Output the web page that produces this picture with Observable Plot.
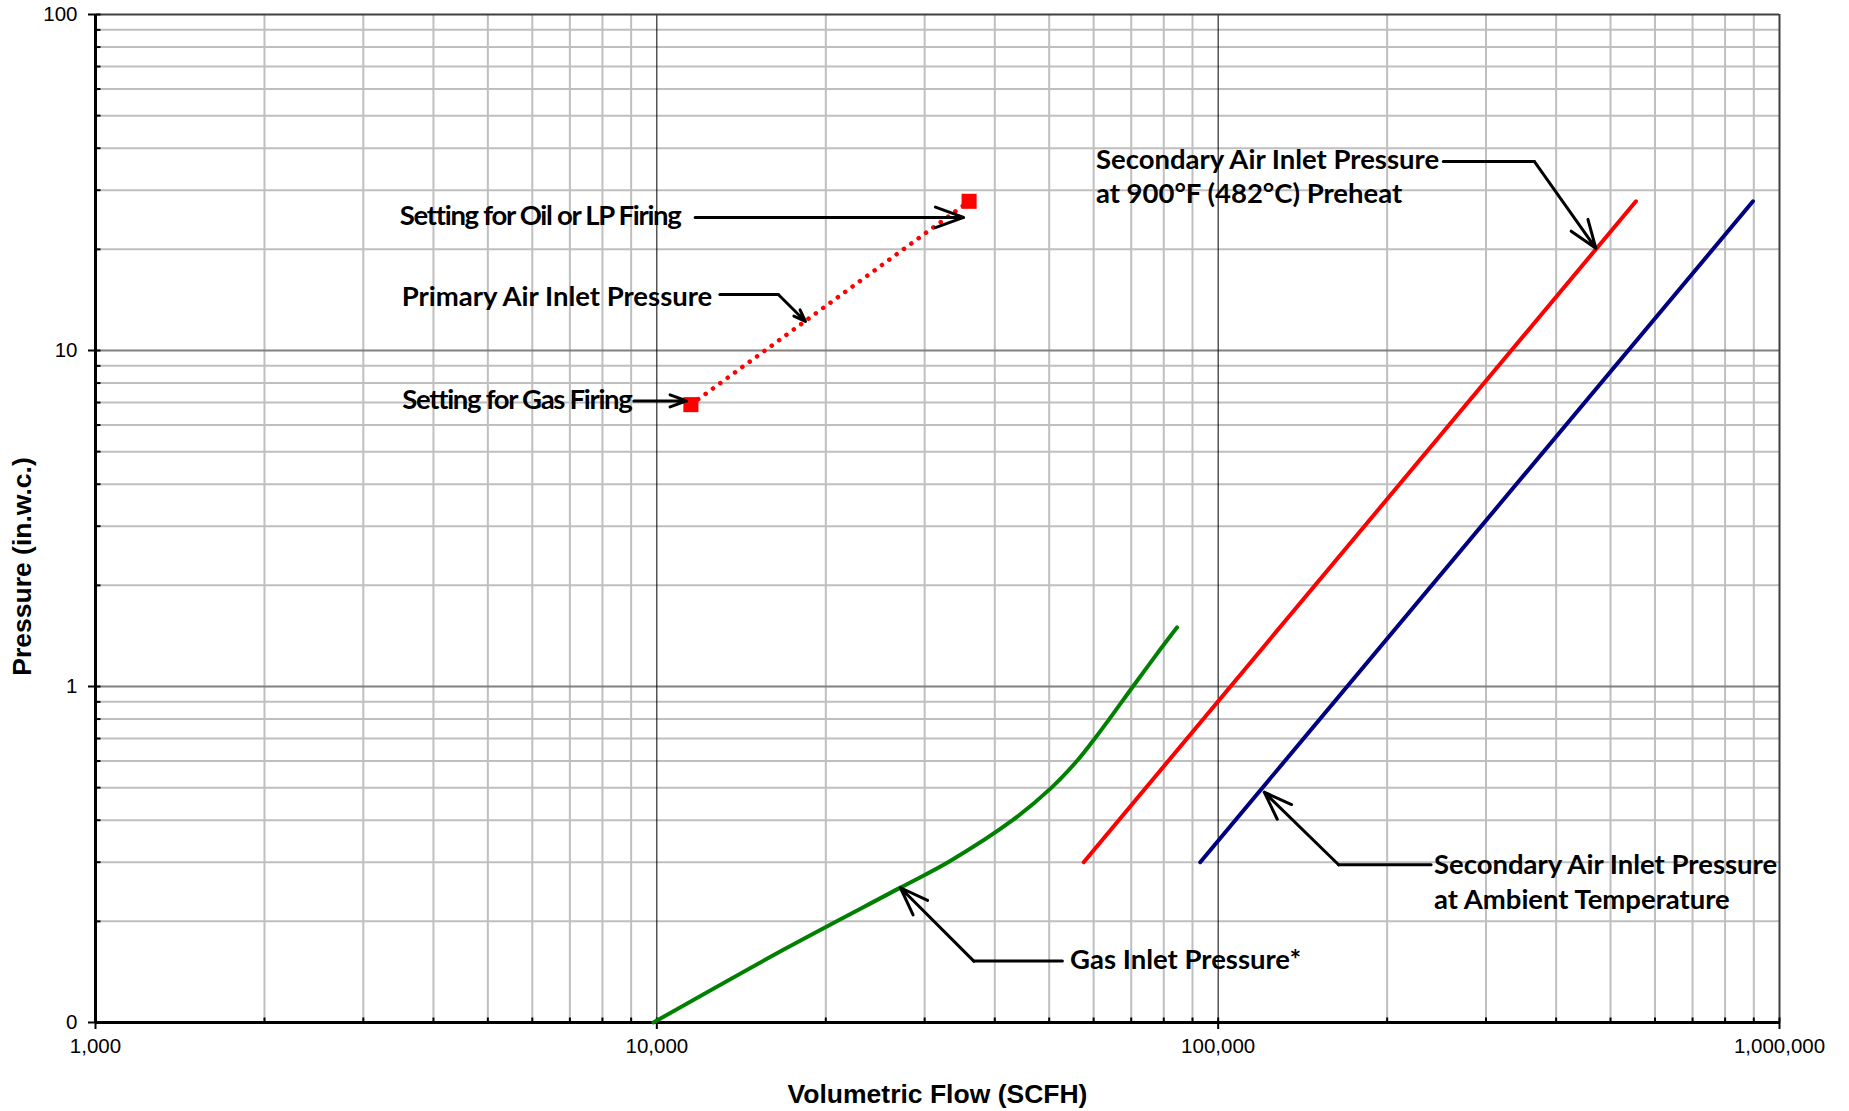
<!DOCTYPE html>
<html>
<head>
<meta charset="utf-8">
<script src="https://cdn.jsdelivr.net/npm/d3@7"></script>
<script src="https://cdn.jsdelivr.net/npm/@observablehq/plot@0.6"></script>
<style>
  html, body { margin: 0; padding: 0; background: #fff; }
  #chart svg { display: block; }
</style>
</head>
<body>
<div id="chart"></div>
<script>
// ---- Data ----
const xTitle = "Volumetric Flow (SCFH)";
const yTitle = "Pressure (in.w.c.)";
const xTicks = [1000, 10000, 100000, 1000000];
const yTicks = [0.1, 1, 10, 100];

// Gas Inlet Pressure* (green)
const gasFlow = [9860, 16960, 27160, 33250, 43030, 50480, 56020, 60290, 63980, 67340, 70500, 77500, 84500];
const gasPressure = [0.1, 0.166, 0.252, 0.302, 0.4, 0.5, 0.6, 0.7, 0.8, 0.9, 1.0, 1.24, 1.5];

// Secondary Air Inlet Pressure at 900°F (482°C) Preheat (red)
const preheatFlow = [57600, 555000];
const preheatPressure = [0.3, 27.8];

// Secondary Air Inlet Pressure at Ambient Temperature (navy)
const ambientFlow = [92900, 897000];
const ambientPressure = [0.3, 27.8];

// Primary Air Inlet Pressure (red dotted, settings as squares)
const primaryFlow = [11500, 36000];
const primaryPressure = [6.9, 27.8];

// Annotation labels
const labelText = [
  "Setting for Oil or LP Firing",
  "Primary Air Inlet Pressure",
  "Setting for Gas Firing",
  "Secondary Air Inlet Pressure",
  "at 900°F (482°C) Preheat",
  "Secondary Air Inlet Pressure",
  "at Ambient Temperature",
  "Gas Inlet Pressure*"
];
const labelFlow = [3485, 3511, 3520, 60560, 60560, 242300, 242300, 54470];
const labelPressure = [25.05, 14.41, 7.10, 36.78, 29.27, 0.2934, 0.2307, 0.1529];

// Leader lines (flow, pressure) - last point is the arrow tip
const leaderFlow = [
  [11700, 35200],
  [12950, 16460, 18400],
  [9100, 11300],
  [251800, 366000, 470800],
  [239500, 163900, 120800],
  [52780, 36700, 27160]
];
const leaderPressure = [
  [24.9, 24.9],
  [14.68, 14.68, 12.2],
  [7.08, 7.08],
  [36.5, 36.5, 20.15],
  [0.2947, 0.2947, 0.4846],
  [0.1523, 0.1523, 0.2518]
];

// ---- Build tables ----
const zip = (xs, ys) => xs.map((x, i) => ({x, y: ys[i]}));
const gas = zip(gasFlow, gasPressure);
const preheat = zip(preheatFlow, preheatPressure);
const ambient = zip(ambientFlow, ambientPressure);
const primary = zip(primaryFlow, primaryPressure);
const labels = labelText.map((t, i) => ({t, x: labelFlow[i], y: labelPressure[i]}));

const polyPts = [];
const arrows = [];
leaderFlow.forEach((fx, k) => {
  const fy = leaderPressure[k];
  const n = fx.length;
  if (n > 2) {
    for (let i = 0; i < n - 1; i++) polyPts.push({k, x: fx[i], y: fy[i]});
  }
  arrows.push({x1: fx[n - 2], y1: fy[n - 2], x2: fx[n - 1], y2: fy[n - 1]});
});

const minorX = [];
for (const e of [1000, 10000, 100000]) for (let m = 2; m <= 9; m++) minorX.push(m * e);
const minorY = [];
for (const e of [0.1, 1, 10]) for (let m = 2; m <= 9; m++) minorY.push(+(m * e).toPrecision(3));
const majorXinner = [10000, 100000];
const majorYinner = [1, 10];

const tickRight = {draw(ctx) { ctx.moveTo(0, 0); ctx.lineTo(5, 0); }};
const tickUp = {draw(ctx) { ctx.moveTo(0, 0); ctx.lineTo(0, -5); }};

const chart = Plot.plot({
  width: 1849,
  height: 1111,
  marginLeft: 95,
  marginRight: 70,
  marginTop: 14,
  marginBottom: 89,
  style: {fontFamily: "'Liberation Sans', Arial, sans-serif", fontSize: "20.5px", background: "#fff", color: "#000"},
  x: {type: "log", domain: [1000, 1000000]},
  y: {type: "log", domain: [0.1, 100]},
  marks: [
    // grid
    Plot.ruleX(minorX, {stroke: "#bfbfbf", strokeWidth: 2}),
    Plot.ruleY(minorY, {stroke: "#bfbfbf", strokeWidth: 2}),
    Plot.ruleY(majorYinner, {stroke: "#808080", strokeWidth: 2}),
    Plot.ruleX(majorXinner, {stroke: "#000", strokeWidth: 1}),
    // frame
    Plot.ruleY([100], {stroke: "#404040", strokeWidth: 2}),
    Plot.ruleX([1000000], {stroke: "#404040", strokeWidth: 2}),
    Plot.ruleX([1000], {stroke: "#000", strokeWidth: 3}),
    Plot.ruleY([0.1], {stroke: "#000", strokeWidth: 3}),
    // inner ticks
    Plot.dot([...minorY, ...yTicks], {x: () => 1000, y: d => d, symbol: tickRight, stroke: "#000", strokeWidth: 2, fill: "none"}),
    Plot.dot([...minorX, ...xTicks], {x: d => d, y: () => 0.1, symbol: tickUp, stroke: "#000", strokeWidth: 2, fill: "none"}),
    // axes
    Plot.axisX({ticks: xTicks, tickFormat: d3.format(","), tickSize: 7, tickPadding: 9, strokeWidth: 2, label: null, fontSize: 20.5}),
    Plot.axisY({ticks: yTicks, tickFormat: d => d < 1 ? "0" : d3.format(",")(d), tickSize: 7, tickPadding: 11, strokeWidth: 2, label: null, fontSize: 20.5}),
    // titles
    Plot.text([xTitle], {frameAnchor: "bottom", dy: 72, text: d => d, textAnchor: "middle", fontWeight: "bold", fontSize: 26.5, lineAnchor: "middle"}),
    Plot.text([yTitle], {frameAnchor: "left", dx: -73, dy: 48, text: d => d, rotate: -90, textAnchor: "middle", fontWeight: "bold", fontSize: 26.5, lineAnchor: "middle"}),
    // data
    Plot.line(gas, {x: "x", y: "y", stroke: "#008000", strokeWidth: 4, curve: "catmull-rom", strokeLinecap: "round"}),
    Plot.line(preheat, {x: "x", y: "y", stroke: "#ff0000", strokeWidth: 4, strokeLinecap: "round"}),
    Plot.line(ambient, {x: "x", y: "y", stroke: "#000080", strokeWidth: 4, strokeLinecap: "round"}),
    Plot.line(primary, {x: "x", y: "y", stroke: "#ff0000", strokeWidth: 4.5, strokeDasharray: "0.1 9", strokeLinecap: "round"}),
    Plot.dot(primary, {x: "x", y: "y", symbol: "square", r: 8.5, fill: "#ff0000", stroke: "none"}),
    // annotations
    Plot.line(polyPts, {x: "x", y: "y", z: "k", stroke: "#000", strokeWidth: 3}),
    Plot.arrow(arrows, {x1: "x1", y1: "y1", x2: "x2", y2: "y2", stroke: "#000", strokeWidth: 3, headLength: 15, headAngle: 40}),
    Plot.text(labels, {x: "x", y: "y", text: "t", textAnchor: "start", lineAnchor: "middle", fontFamily: "Lato, sans-serif", fontWeight: "bold", fontSize: 27.5, fill: "#000"})
  ]
});
// Lato sets "Setting..." wider than the original face; tighten those two labels
chart.querySelectorAll("text").forEach(t => {
  if (t.textContent.startsWith("Setting")) t.setAttribute("letter-spacing", "-1.3");
});
document.getElementById("chart").appendChild(chart);
</script>
</body>
</html>
